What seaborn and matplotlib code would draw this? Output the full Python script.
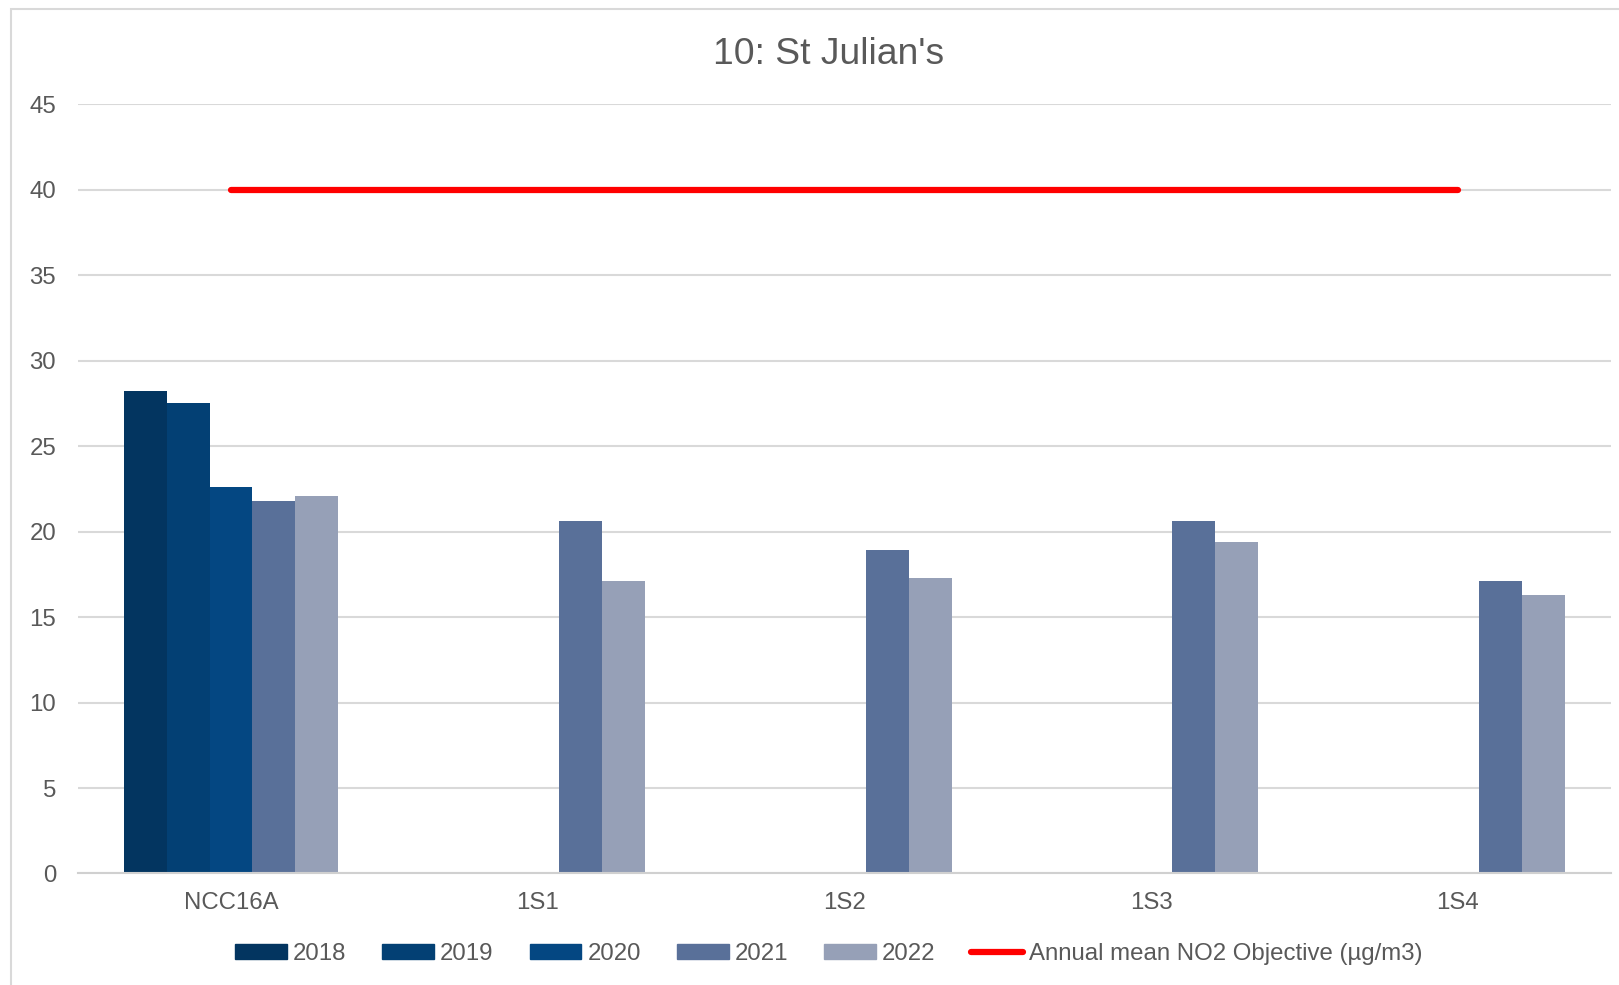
import numpy as np
import pandas as pd
import matplotlib
matplotlib.use("Agg")
import matplotlib.pyplot as plt
from matplotlib.patches import Rectangle
from matplotlib.lines import Line2D
import seaborn as sns

sites = ["NCC16A", "1S1", "1S2", "1S3", "1S4"]
years = ["2018", "2019", "2020", "2021", "2022"]
v2018 = [28.2, np.nan, np.nan, np.nan, np.nan]
v2019 = [27.5, np.nan, np.nan, np.nan, np.nan]
v2020 = [22.6, np.nan, np.nan, np.nan, np.nan]
v2021 = [21.8, 20.6, 18.9, 20.6, 17.1]
v2022 = [22.1, 17.1, 17.3, 19.4, 16.3]
objective = [40, 40, 40, 40, 40]
objective_label = "Annual mean NO2 Objective (µg/m3)"
title = "10: St Julian's"
yticks = [0, 5, 10, 15, 20, 25, 30, 35, 40, 45]

colors = ["#033560", "#034074", "#044782", "#597099", "#96A0B7"]

rows = []
for yr, vals in zip(years, [v2018, v2019, v2020, v2021, v2022]):
    for s, v in zip(sites, vals):
        rows.append({"site": s, "year": yr, "value": v})
df = pd.DataFrame(rows)

sns.set_theme(style="white")
plt.rcParams["font.family"] = ["Liberation Sans", "DejaVu Sans"]
text_color = "#595959"
fs = 17.3

fig = plt.figure(figsize=(16.19, 9.85), dpi=100)
ax = fig.add_axes([0.048, 0.1132, 0.947, 0.7809])

sns.barplot(data=df, x="site", y="value", hue="year", order=sites,
            hue_order=years, palette=colors, width=0.7, saturation=1,
            ax=ax, legend=False, linewidth=0, errorbar=None)

ax.plot(np.arange(len(sites)), objective, color="#ff0000", lw=4.5,
        solid_capstyle="round", zorder=5)

ax.set_ylim(0, 45)
ax.set_xlim(-0.5, len(sites) - 0.5)
ax.set_yticks(yticks)
ax.set_yticklabels([str(t) for t in yticks])
ax.yaxis.grid(True, color="#d9d9d9", lw=1.5)
ax.set_axisbelow(True)
for sp in ["left", "right", "top"]:
    ax.spines[sp].set_visible(False)
ax.spines["bottom"].set_color("#d0d0d0")
ax.spines["bottom"].set_linewidth(1.5)
ax.tick_params(axis="both", length=0, labelsize=fs, colors=text_color)
ax.tick_params(axis="x", pad=13)
ax.tick_params(axis="y", pad=15.5)
ax.set_xlabel("")
ax.set_ylabel("")

fig.text(0.512, 0.9445, title, ha="center", va="center", fontsize=26.8,
         color=text_color)

handles = [Rectangle((0, 0), 1, 1, color=c) for c in colors]
handles.append(Line2D([0], [0], color="#ff0000", lw=4.5,
                      solid_capstyle="round"))
labels = years + [objective_label]
fig.legend(handles, labels, loc="center", bbox_to_anchor=(0.512, 1 - 954 / 985),
           ncol=6, frameon=False, fontsize=fs, labelcolor=text_color,
           handlelength=2.15, handleheight=0.6, handletextpad=0.25,
           columnspacing=1.5)

fig.patches.append(Rectangle((11 / 1619, -0.01), 1.1, 1 - 9 / 985 + 0.01,
                             transform=fig.transFigure, fill=False,
                             edgecolor="#d9d9d9", lw=1.5))

fig.savefig("out.png", dpi=100, facecolor="white")
